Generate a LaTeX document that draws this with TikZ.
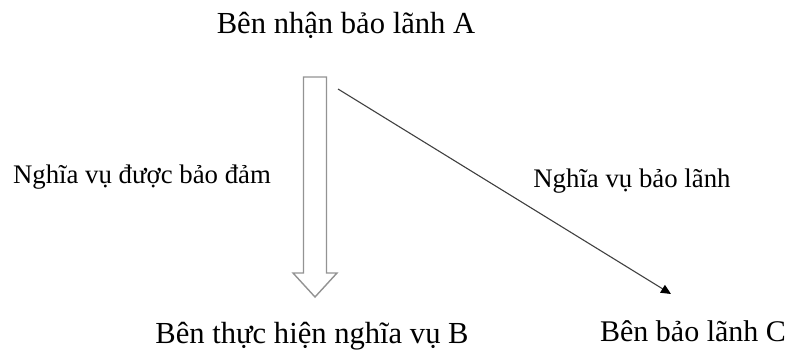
\documentclass[tikz,border=0pt]{standalone}
\usepackage{fontspec}
\setmainfont{Liberation Serif}
\usetikzlibrary{arrows.meta,calc}

\begin{document}
\begin{tikzpicture}[x=1pt,y=-1pt,
  big/.style={anchor=base,inner sep=0pt,font=\fontsize{30.6}{36}\selectfont},
  small/.style={anchor=base,inner sep=0pt,font=\fontsize{26.8}{31}\selectfont},
  hollow/.style={draw=gray!85,line width=1.4pt,line join=miter,fill=white},
  thin/.style={draw=black!75,line width=1.1pt,-{Triangle[length=10pt,width=9pt,black]}},
  >=Stealth]
\useasboundingbox (0,0) rectangle (789,354);
\node[big] (a) at (346,33) {Bên nhận bảo lãnh A};
\node[big] (b) at (312,343) {Bên thực hiện nghĩa vụ B};
\node[small,font=\fontsize{30}{36}\selectfont] (c) at (693,341) {Bên bảo lãnh C};
\node[small] (lb) at (142,183) {Nghĩa vụ được bảo đảm};
\node[small] (lc) at (632,187) {Nghĩa vụ bảo lãnh};
% hollow arrow A -> B
\coordinate (top) at (315,77);
\coordinate (tip) at (315,297);
\draw[hollow] ($(top)+(-11.5,0)$) -- ($(top)+(11.5,0)$) -- ($(tip)+(11.5,-24)$)
  -- ($(tip)+(22,-24)$) -- (tip) -- ($(tip)+(-22,-24)$) -- ($(tip)+(-11.5,-24)$) -- cycle;
% thin arrow A -> C
\coordinate (s) at (338,89);
\coordinate (e) at (671,294);
\draw[thin] (s) -- (e);
\end{tikzpicture}
\end{document}
